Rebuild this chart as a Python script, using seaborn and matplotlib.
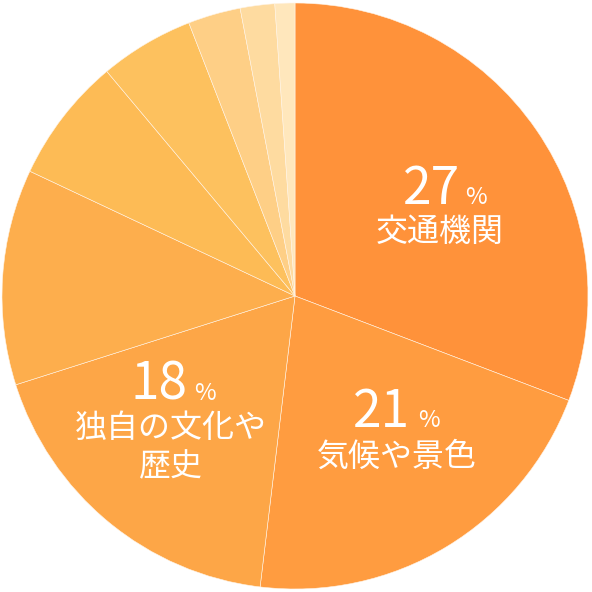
import matplotlib
matplotlib.use("Agg")
import matplotlib.pyplot as plt
import seaborn as sns

sns.set_theme(style="white")
plt.rcParams["font.family"] = ["Noto Sans CJK JP", "DejaVu Sans"]

# slice sizes (clockwise from 12 o'clock)
shares = [30.8, 21.1, 18.2, 11.9, 6.9, 5.2, 2.9, 1.9, 1.1]
colors = ["#ff923a", "#ff9c40", "#fda647", "#fdae4d", "#fdbb55", "#fdc15e",
          "#fecf86", "#fedba0", "#ffe7bc"]

pct_labels = ["27", "21", "18"]
names = ["交通機関", "気候や景色", "独自の文化や\n歴史"]

# label anchors in pixels: right edge of number, left edge of %, baseline
num_pos = [(460, 465, 204), (410, 418, 427), (187, 194, 400)]
name_pos = [(440, 232), (397, 457), (171, 448)]

W = 592
cx, cy, r = 295, 296, 293


def to_data(px, py):
    return (px - cx) / r, (cy - py) / r


fig = plt.figure(figsize=(W / 100, W / 100), dpi=100)
ax = fig.add_axes([0, 0, 1, 1])
ax.pie(shares, colors=colors, startangle=90, counterclock=False, radius=1,
       wedgeprops=dict(edgecolor="#fff4e6", linewidth=0.4))
ax.set_xlim(-cx / r, (W - cx) / r)
ax.set_ylim(-(W - cy) / r, cy / r)
ax.set_aspect("equal")
ax.axis("off")

for num, (rx, lx, py) in zip(pct_labels, num_pos):
    x, y = to_data(rx, py)
    ax.text(x, y, num, color="white", fontsize=37, ha="right", va="baseline")
    x2, _ = to_data(lx, py)
    ax.text(x2, y, "%", color="white", fontsize=17, ha="left", va="baseline")

for name, (px, py) in zip(names, name_pos):
    x, y = to_data(px, py)
    ax.text(x, y, name, color="white", fontsize=23, ha="center", va="center",
            linespacing=1.3)

fig.savefig("out.png", dpi=100)
plt.close(fig)
